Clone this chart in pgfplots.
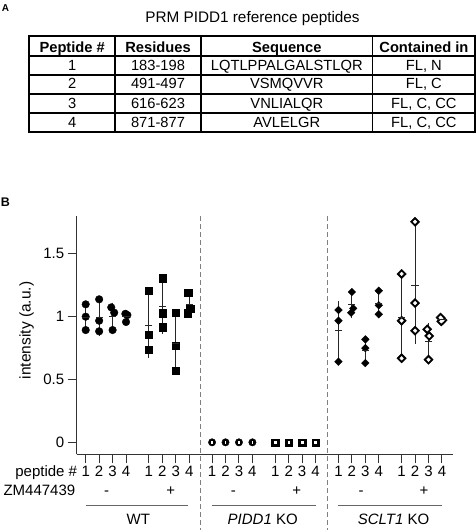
\documentclass[border=0pt]{standalone}
\usepackage{fontspec}
\setmainfont{Liberation Sans}
\usepackage{pgfplots}
\usepackage{pgfplotstable}
\pgfplotsset{compat=1.18}
\pgfplotstableread{
x m s
1 0.994 0.102
2 0.994 0.129
3 0.997 0.094
4 0.995 0.035
5.7 0.931 0.242
6.7 1.080 0.200
7.7 0.788 0.230
8.7 1.090 0.086
19.8 0.885 0.216
20.8 1.095 0.087
21.8 0.731 0.095
22.8 1.102 0.094
24.5 0.989 0.335
25.5 1.247 0.449
26.5 0.799 0.127
27.5 0.973 0.015
}\meansd
\pgfplotstableread{
x y
24.5 1.336
24.5 0.965
24.5 0.667
25.5 1.75
25.5 1.105
25.5 0.886
26.4 0.897
26.55 0.844
26.5 0.656
27.4 0.99
27.55 0.97
27.45 0.96
}\sclplus
\pgfplotstableread{
x y
10.4 0
11.4 0
12.4 0
13.4 0
}\piddminus
\pgfplotstableread{
x y
15.1 0
16.1 0
17.1 0
18.1 0
}\piddplus
\begin{document}
\begin{tikzpicture}
\path[use as bounding box] (0,0) rectangle (476pt,-530pt);
\node[font=\fontsize{10}{12}\selectfont\bfseries] at (5.5pt,-8.3pt) {A};
\node[font=\fontsize{12.5}{14}\selectfont\bfseries] at (5.5pt,-201.7pt) {B};
\node[font=\fontsize{15.3}{18}\selectfont] at (252.5pt,-19pt) {PRM PIDD1 reference peptides};
% table
\draw[line width=1.3pt] (29.3pt,-56pt) -- (475pt,-56pt);
\foreach \yy in {75,94,113} {\draw[line width=1.1pt] (29.3pt,-\yy pt) -- (475pt,-\yy pt);}
\foreach \xx in {115,201,372.7} {\draw[line width=1.1pt] (\xx pt,-36pt) -- (\xx pt,-132.3pt);}
\draw[line width=1.8pt] (29.3pt,-36pt) rectangle (475pt,-132.3pt);
\begin{scope}[every node/.style={anchor=base, inner sep=0pt, font=\fontsize{14.7}{17}\selectfont}]
\node[font=\fontsize{14.7}{17}\selectfont\bfseries] at (72.2pt,-52.3pt) {Peptide \#};
\node[font=\fontsize{14.7}{17}\selectfont\bfseries] at (158pt,-52.3pt) {Residues};
\node[font=\fontsize{14.7}{17}\selectfont\bfseries] at (286.8pt,-52.3pt) {Sequence};
\node[font=\fontsize{14.7}{17}\selectfont\bfseries] at (423.9pt,-52.3pt) {Contained in};
\node at (72.2pt,-70.3pt) {1}; \node at (158pt,-70.3pt) {183-198}; \node at (286.8pt,-70.3pt) {LQTLPPALGALSTLQR}; \node at (423.9pt,-70.3pt) {FL, N};
\node at (72.2pt,-88.7pt) {2}; \node at (158pt,-88.7pt) {491-497}; \node at (286.8pt,-88.7pt) {VSMQVVR}; \node at (423.9pt,-88.7pt) {FL, C};
\node at (72.2pt,-108.7pt) {3}; \node at (158pt,-108.7pt) {616-623}; \node at (286.8pt,-108.7pt) {VNLIALQR}; \node at (423.9pt,-108.7pt) {FL, C, CC};
\node at (72.2pt,-127.7pt) {4}; \node at (158pt,-127.7pt) {871-877}; \node at (286.8pt,-127.7pt) {AVLELGR}; \node at (423.9pt,-127.7pt) {FL, C, CC};
\end{scope}
\begin{axis}[at={(76.7pt,-454.3pt)}, anchor=south west, scale only axis,
  width=376pt, height=238.3pt,
  xmin=0.33, xmax=28.3, ymin=-0.095, ymax=1.796,
  axis x line*=bottom, axis y line*=left,
  axis line style={line width=1.2pt, black!80, -},
  clip=false,
  xtick={1,2,3,4,5.7,6.7,7.7,8.7,10.4,11.4,12.4,13.4,15.1,16.1,17.1,18.1,19.8,20.8,21.8,22.8,24.5,25.5,26.5,27.5},
  xticklabels={1,2,3,4,1,2,3,4,1,2,3,4,1,2,3,4,1,2,3,4,1,2,3,4},
  ytick={0,0.5,1,1.5}, yticklabels={0,0.5,1,1.5},
  tick align=outside, major tick length=9pt,
  tick style={line width=1pt, black!80},
  ticklabel style={font=\fontsize{15}{18}\selectfont},
  xticklabel style={yshift=1pt},
  /pgf/number format/assume math mode=true,
  ylabel={intensity (a.u.)},
  ylabel style={font=\fontsize{15.5}{18}\selectfont, at={(axis description cs:-0.133,0.52)}, anchor=center},
]
% WT -
\addplot[only marks, mark=*, mark size=3.8pt, black] coordinates {
(1,1.095) (1,0.997) (1,0.891)
(2,1.135) (2,0.965) (2,0.881)
(2.9,1.071) (3.12,1.029) (3,0.891)
(3.95,1.02) (4.1,1.01) (4,0.955)};
% WT +
\addplot[only marks, mark=square*, mark size=3.6pt, black] coordinates {
(5.7,1.201) (5.7,0.857) (5.7,0.735)
(6.7,1.302) (6.7,1.024) (6.7,0.913)
(7.7,1.029) (7.7,0.764) (7.7,0.571)
(8.62,1.187) (8.78,1.06) (8.6,1.024)};
% PIDD1 KO
\addplot[only marks, mark=*, mark size=3.7pt, black] table {\piddminus};
\addplot[only marks, mark=|, mark size=1.5pt, white, mark options={line width=1.2pt}] table {\piddminus};
\addplot[only marks, mark=square*, mark size=3.6pt, black] table {\piddplus};
\addplot[only marks, mark=square*, mark size=0.9pt, white] table {\piddplus};
% SCLT1 KO -
\addplot[only marks, mark=square*, mark size=2.7pt, mark options={rotate=45}, black] coordinates {
(19.8,1.05) (19.8,0.965) (19.8,0.64)
(20.8,1.193) (20.9,1.063) (20.75,1.029)
(21.8,0.817) (21.8,0.748) (21.8,0.629)
(22.8,1.203) (22.8,1.087) (22.8,1.016)};
% SCLT1 KO +
\addplot[only marks, mark=square*, mark size=3.3pt, mark options={rotate=45}, black] table {\sclplus};
\addplot[only marks, mark=square*, mark size=1.3pt, mark options={rotate=45}, white] table {\sclplus};
% mean and SD
\addplot[only marks, mark=-, mark size=3.6pt, black!85, mark options={line width=1pt},
  error bars/.cd, y dir=both, y explicit, error mark=-,
  error mark options={mark size=2.3pt, line width=1pt, black!85},
  error bar style={line width=1pt, black!85}]
  table[x=x, y=m, y error=s] {\meansd};
\draw[black!50, dash pattern=on 5pt off 3pt, line width=0.9pt] (axis cs:9.55,1.796) -- (axis cs:9.55,-0.7);
\draw[black!50, dash pattern=on 5pt off 3pt, line width=0.9pt] (axis cs:18.95,1.796) -- (axis cs:18.95,-0.7);
\end{axis}
% annotations below
\begin{scope}[every node/.style={inner sep=0pt, font=\fontsize{15}{18}\selectfont}]
\node[anchor=base east] at (77.3pt,-476pt) {peptide \#};
\node[anchor=base west] at (3.3pt,-495pt) {ZM447439};
\foreach \xx in {106.7,233.3,361} {\node[anchor=base] at (\xx pt,-495pt) {-};}
\foreach \xx in {170.7,296.7,424} {\node[anchor=base] at (\xx pt,-495pt) {+};}
\draw[black!60, line width=0.8pt] (85.7pt,-505pt) -- (188.3pt,-505pt);
\draw[black!60, line width=0.8pt] (212.3pt,-505pt) -- (315.7pt,-505pt);
\draw[black!60, line width=0.8pt] (338pt,-505pt) -- (441.7pt,-505pt);
\node[anchor=base] at (138.3pt,-524.3pt) {WT};
\node[anchor=base] at (262.7pt,-524.3pt) {\textit{PIDD1} KO};
\node[anchor=base] at (393.5pt,-524.3pt) {\textit{SCLT1} KO};
\end{scope}
\end{tikzpicture}
\end{document}
